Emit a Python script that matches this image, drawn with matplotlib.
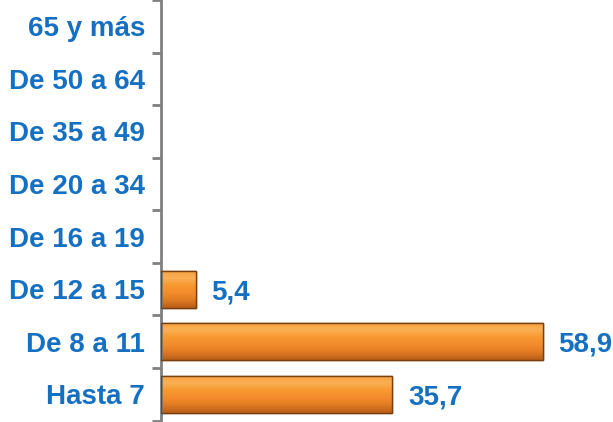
import numpy as np
import matplotlib
matplotlib.use("Agg")
import matplotlib.pyplot as plt
from matplotlib.colors import LinearSegmentedColormap

plt.rcParams['font.family'] = ['Liberation Sans', 'DejaVu Sans']

# Years of schooling groups (bottom to top) and their shares (%)
categories = ["Hasta 7", "De 8 a 11", "De 12 a 15", "De 16 a 19",
              "De 20 a 34", "De 35 a 49", "De 50 a 64", "65 y más"]
values = [35.7, 58.9, 5.4, np.nan, np.nan, np.nan, np.nan, np.nan]

text_blue = "#1670C2"
bar_edge = "#7A3F0C"

fig = plt.figure(figsize=(6.13, 4.22), dpi=100)
ax = fig.add_axes([161 / 613, 0, 1 - 161 / 613, 1])

y = np.arange(len(categories))
vals = np.array(values, dtype=float)
bars = ax.barh(y, np.nan_to_num(vals), height=0.71, color="#F39233",
               edgecolor=bar_edge, linewidth=1.0, zorder=2)

# Bevelled look: vertical gradient clipped to each bar
grad_cmap = LinearSegmentedColormap.from_list(
    "bevel", ["#B85E18", "#E07A22", "#F38C2C", "#F7982F", "#FBB055", "#F5A040"])
grad = np.linspace(0, 1, 64).reshape(-1, 1)
for b, v in zip(bars, vals):
    if np.isnan(v) or v <= 0:
        continue
    x0, y0 = b.get_x(), b.get_y()
    w, h = b.get_width(), b.get_height()
    im = ax.imshow(grad, cmap=grad_cmap, aspect="auto", origin="lower",
                   extent=(x0, x0 + w, y0, y0 + h), zorder=2.5,
                   interpolation="bilinear")
    im.set_clip_path(b)
    ax.add_patch(plt.Rectangle((x0, y0), w, h, fill=False,
                               edgecolor=bar_edge, linewidth=1.0, zorder=3))
    ax.text(v + 2.4, b.get_y() + h / 2, f"{v:.1f}".replace(".", ","),
            va="center_baseline", ha="left", fontsize=20, fontweight="bold",
            color=text_blue, zorder=4)

ax.set_xlim(0, (613 - 161) / 6.48)
ax.set_ylim(-0.526, 7.391)

ax.set_yticks(y)
ax.set_yticklabels(categories, fontsize=20, fontweight="bold", color=text_blue)
for lbl in ax.get_yticklabels():
    lbl.set_verticalalignment("center_baseline")
ax.tick_params(axis="y", which="major", length=0, pad=11.5)
ax.set_yticks(np.arange(-0.5, len(categories), 1.0), minor=True)
ax.tick_params(axis="y", which="minor", length=6.5, width=2, color="#808080",
               direction="out")
ax.set_xticks([])

for side in ["top", "right", "bottom"]:
    ax.spines[side].set_visible(False)
ax.spines["left"].set_color("#808080")
ax.spines["left"].set_linewidth(2)

fig.savefig("out.png", dpi=100)
